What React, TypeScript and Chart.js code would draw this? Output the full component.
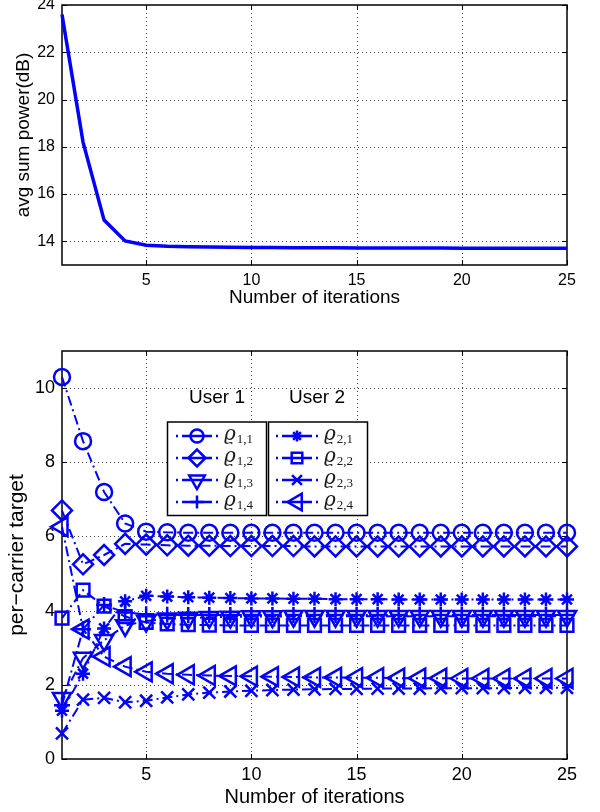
import React, { useEffect, useRef } from "react";
import { Chart, registerables } from "chart.js";

Chart.register(...registerables);

// ---------- data ----------
const iterations = [1, 2, 3, 4, 5, 6, 7, 8, 9, 10, 11, 12, 13, 14, 15, 16, 17, 18, 19, 20, 21, 22, 23, 24, 25];
const avgSumPowerDb = [23.6, 18.2, 14.9, 14.02, 13.84, 13.79, 13.77, 13.76, 13.75, 13.74, 13.74, 13.73, 13.73, 13.73, 13.72, 13.72, 13.72, 13.72, 13.72, 13.71, 13.71, 13.71, 13.71, 13.71, 13.71];

const rho11 = [10.3, 8.57, 7.2, 6.35, 6.13, 6.11, 6.1, 6.1, 6.1, 6.1, 6.1, 6.1, 6.1, 6.1, 6.1, 6.1, 6.1, 6.1, 6.1, 6.1, 6.1, 6.1, 6.1, 6.1, 6.1];
const rho12 = [6.7, 5.25, 5.5, 5.8, 5.78, 5.76, 5.75, 5.75, 5.74, 5.74, 5.74, 5.74, 5.73, 5.73, 5.73, 5.73, 5.73, 5.73, 5.73, 5.73, 5.73, 5.73, 5.73, 5.73, 5.73];
const rho13 = [1.64, 2.72, 3.2, 3.6, 3.72, 3.78, 3.8, 3.82, 3.83, 3.84, 3.84, 3.85, 3.85, 3.85, 3.85, 3.85, 3.85, 3.85, 3.85, 3.85, 3.85, 3.85, 3.85, 3.85, 3.85];
const rho14 = [1.45, 3.5, 4.15, 3.95, 3.9, 3.89, 3.88, 3.88, 3.88, 3.88, 3.88, 3.88, 3.88, 3.88, 3.88, 3.88, 3.88, 3.88, 3.88, 3.88, 3.88, 3.88, 3.88, 3.88, 3.88];
const rho21 = [1.3, 2.3, 3.52, 4.25, 4.4, 4.38, 4.36, 4.35, 4.34, 4.33, 4.33, 4.32, 4.32, 4.31, 4.31, 4.31, 4.3, 4.3, 4.3, 4.3, 4.3, 4.3, 4.3, 4.3, 4.3];
const rho22 = [3.8, 4.55, 4.12, 3.84, 3.68, 3.64, 3.62, 3.61, 3.6, 3.6, 3.6, 3.6, 3.6, 3.6, 3.6, 3.6, 3.6, 3.6, 3.6, 3.6, 3.6, 3.6, 3.6, 3.6, 3.6];
const rho23 = [0.69, 1.6, 1.65, 1.53, 1.57, 1.66, 1.74, 1.79, 1.82, 1.84, 1.86, 1.87, 1.88, 1.89, 1.89, 1.9, 1.9, 1.9, 1.91, 1.91, 1.91, 1.91, 1.92, 1.92, 1.92];
const rho24 = [6.26, 3.5, 2.76, 2.49, 2.35, 2.3, 2.27, 2.25, 2.24, 2.23, 2.22, 2.21, 2.2, 2.2, 2.19, 2.19, 2.18, 2.18, 2.18, 2.17, 2.17, 2.17, 2.17, 2.17, 2.17];

const seriesValues = [rho11, rho12, rho13, rho14, rho21, rho22, rho23, rho24];
const seriesSubscripts = ["1,1", "1,2", "1,3", "1,4", "2,1", "2,2", "2,3", "2,4"];
const userHeadings = ["User 1", "User 2"];

const xTickValues = [5, 10, 15, 20, 25];
const topYTickValues = [14, 16, 18, 20, 22, 24];
const bottomYTickValues = [0, 2, 4, 6, 8, 10];

const xTitle = "Number of iterations";
const topYTitle = "avg sum power(dB)";
const bottomYTitle = "per\u2212carrier target";

// ---------- styles ----------
const BLUE = "#0000ff";
const SANS = "'Liberation Sans', Arial, Helvetica, sans-serif";
const markerStyles = [
  { style: "circle", radius: 8, rotation: 0 },
  { style: "rectRot", radius: 10, rotation: 0 },
  { style: "triangle", radius: 10.5, rotation: 180 },
  { style: "cross", radius: 8, rotation: 0 },
  { style: "star", radius: 7, rotation: 0 },
  { style: "rect", radius: 9, rotation: 0 },
  { style: "crossRot", radius: 8.5, rotation: 0 },
  { style: "triangle", radius: 11, rotation: -90 },
];
const DASH_DOT = [10, 4, 2, 4];

function drawMarker(ctx: CanvasRenderingContext2D, style: string, x: number, y: number, r: number, rotDeg: number) {
  let rad = (rotDeg * Math.PI) / 180;
  ctx.beginPath();
  if (style === "circle") {
    ctx.arc(x, y, r, 0, Math.PI * 2);
  } else if (style === "triangle") {
    ctx.moveTo(x + Math.sin(rad) * r, y - Math.cos(rad) * r);
    rad += (2 * Math.PI) / 3;
    ctx.lineTo(x + Math.sin(rad) * r, y - Math.cos(rad) * r);
    rad += (2 * Math.PI) / 3;
    ctx.lineTo(x + Math.sin(rad) * r, y - Math.cos(rad) * r);
    ctx.closePath();
  } else if (style === "rect") {
    const s = Math.SQRT1_2 * r;
    ctx.rect(x - s, y - s, 2 * s, 2 * s);
  } else if (style === "rectRot") {
    ctx.moveTo(x - r, y);
    ctx.lineTo(x, y - r);
    ctx.lineTo(x + r, y);
    ctx.lineTo(x, y + r);
    ctx.closePath();
  } else {
    const d = Math.SQRT1_2 * r;
    if (style === "cross" || style === "star") {
      ctx.moveTo(x - r, y);
      ctx.lineTo(x + r, y);
      ctx.moveTo(x, y - r);
      ctx.lineTo(x, y + r);
    }
    if (style === "crossRot" || style === "star") {
      ctx.moveTo(x - d, y - d);
      ctx.lineTo(x + d, y + d);
      ctx.moveTo(x - d, y + d);
      ctx.lineTo(x + d, y - d);
    }
  }
  ctx.stroke();
}

function matlabAxesPlugin(xVals: number[], yVals: number[], tickLen: number) {
  return {
    id: "matlabAxes",
    beforeDatasetsDraw(chart: any) {
      const { ctx, chartArea: a, scales } = chart;
      const xs = scales.x;
      const ys = scales.y;
      ctx.save();
      // dotted grid
      ctx.strokeStyle = "rgba(0,0,0,0.75)";
      ctx.lineWidth = 1;
      ctx.setLineDash([1, 3]);
      xVals.forEach((v) => {
        const px = Math.round(xs.getPixelForValue(v)) + 0.5;
        if (px > a.left + 2 && px < a.right - 2) {
          ctx.beginPath();
          ctx.moveTo(px, a.top);
          ctx.lineTo(px, a.bottom);
          ctx.stroke();
        }
      });
      yVals.forEach((v) => {
        const py = Math.round(ys.getPixelForValue(v)) + 0.5;
        if (py > a.top + 2 && py < a.bottom - 2) {
          ctx.beginPath();
          ctx.moveTo(a.left, py);
          ctx.lineTo(a.right, py);
          ctx.stroke();
        }
      });
      ctx.setLineDash([]);
      // inward ticks
      ctx.strokeStyle = "#000";
      ctx.lineWidth = 1;
      xVals.forEach((v) => {
        const px = Math.round(xs.getPixelForValue(v)) + 0.5;
        ctx.beginPath();
        ctx.moveTo(px, a.bottom);
        ctx.lineTo(px, a.bottom - tickLen);
        ctx.moveTo(px, a.top);
        ctx.lineTo(px, a.top + tickLen);
        ctx.stroke();
      });
      yVals.forEach((v) => {
        const py = Math.round(ys.getPixelForValue(v)) + 0.5;
        ctx.beginPath();
        ctx.moveTo(a.left, py);
        ctx.lineTo(a.left + tickLen, py);
        ctx.moveTo(a.right, py);
        ctx.lineTo(a.right - tickLen, py);
        ctx.stroke();
      });
      // box
      ctx.lineWidth = 1.5;
      ctx.strokeRect(a.left, a.top, a.right - a.left, a.bottom - a.top);
      ctx.restore();
    },
  };
}

const legendPlugin = {
  id: "userLegend",
  afterDraw(chart: any) {
    const ctx: CanvasRenderingContext2D = chart.ctx;
    const boxes = [
      { left: 167.5, right: 266.5, lineFrom: 176, lineTo: 218, markerX: 197, textX: 224, headX: 217 },
      { left: 268.5, right: 367.5, lineFrom: 276, lineTo: 318, markerX: 297, textX: 324, headX: 317 },
    ];
    const boxTop = 92;
    const boxBottom = 185.5;
    const headY = 67.5;
    const rowY = [106, 128, 150, 172];
    ctx.save();
    boxes.forEach((b, bi) => {
      ctx.fillStyle = "#000";
      ctx.font = `19px ${SANS}`;
      ctx.textAlign = "center";
      ctx.textBaseline = "middle";
      ctx.fillText(userHeadings[bi], b.headX, headY);
      ctx.fillStyle = "#fff";
      ctx.fillRect(b.left, boxTop, b.right - b.left, boxBottom - boxTop);
      ctx.strokeStyle = "#000";
      ctx.lineWidth = 1.5;
      ctx.strokeRect(b.left, boxTop, b.right - b.left, boxBottom - boxTop);
      for (let k = 0; k < 4; k++) {
        const si = bi * 4 + k;
        const y = rowY[k];
        const m = markerStyles[si];
        ctx.strokeStyle = BLUE;
        ctx.lineWidth = 2.5;
        ctx.beginPath();
        ctx.moveTo(b.lineFrom, y);
        ctx.lineTo(b.lineFrom + 2, y);
        ctx.moveTo(b.lineFrom + 6, y);
        ctx.lineTo(b.lineTo - 6, y);
        ctx.moveTo(b.lineTo - 2, y);
        ctx.lineTo(b.lineTo, y);
        ctx.stroke();
        drawMarker(ctx, m.style, b.markerX, y, m.radius - 1.5, m.rotation);
        ctx.fillStyle = "#1a1a1a";
        ctx.textAlign = "left";
        ctx.textBaseline = "alphabetic";
        ctx.font = `italic 20px 'DejaVu Serif', serif`;
        ctx.fillText("\u03F1", b.textX, y + 3.5);
        const w = ctx.measureText("\u03F1").width;
        ctx.font = `13px 'Liberation Serif', 'DejaVu Serif', serif`;
        ctx.fillText(seriesSubscripts[si], b.textX + w + 1, y + 7);
      }
    });
    ctx.restore();
  },
};

function makeScales(opts: {
  yMin: number; yMax: number; yTicks: number[]; yTitle: string;
  tickSize: number; titleSize: number; yTitleSize: number;
  xAxisHeight: number; xTitlePadBottom: number; yTitlePadTop: number; xTickPad: number;
}) {
  return {
    x: {
      type: "linear",
      min: 1,
      max: 25,
      grid: { display: false, drawTicks: false },
      border: { display: false },
      afterBuildTicks: (s: any) => {
        s.ticks = xTickValues.map((v) => ({ value: v }));
      },
      afterFit: (s: any) => {
        s.height = opts.xAxisHeight;
        s.paddingLeft = 0;
        s.paddingRight = 0;
      },
      ticks: {
        padding: opts.xTickPad,
        color: "#000",
        maxRotation: 0,
        autoSkip: false,
        font: { family: SANS, size: opts.tickSize },
      },
      title: {
        display: true,
        text: xTitle,
        color: "#000",
        font: { family: SANS, size: opts.titleSize },
        padding: { top: 0, bottom: opts.xTitlePadBottom },
      },
    },
    y: {
      type: "linear",
      min: opts.yMin,
      max: opts.yMax,
      grid: { display: false, drawTicks: false },
      border: { display: false },
      afterBuildTicks: (s: any) => {
        s.ticks = opts.yTicks.map((v) => ({ value: v }));
      },
      afterFit: (s: any) => {
        s.width = 62;
        s.paddingTop = 0;
        s.paddingBottom = 0;
      },
      ticks: {
        padding: 7,
        color: "#000",
        autoSkip: false,
        font: { family: SANS, size: opts.tickSize },
      },
      title: {
        display: true,
        text: opts.yTitle,
        color: "#000",
        font: { family: SANS, size: opts.yTitleSize },
        padding: { top: opts.yTitlePadTop, bottom: 0 },
      },
    },
  };
}

export default function App() {
  const topRef = useRef<HTMLCanvasElement | null>(null);
  const botRef = useRef<HTMLCanvasElement | null>(null);

  useEffect(() => {
    const topChart = new Chart(topRef.current as HTMLCanvasElement, {
      type: "line",
      data: {
        datasets: [
          {
            data: iterations.map((x, i) => ({ x, y: avgSumPowerDb[i] })),
            borderColor: BLUE,
            borderWidth: 3.5,
            pointRadius: 0,
            tension: 0,
            fill: false,
            clip: false as any,
          },
        ],
      },
      options: {
        animation: false,
        responsive: false,
        devicePixelRatio: 1,
        events: [],
        layout: { padding: { top: 5, right: 33, left: 0, bottom: 0 } },
        plugins: { legend: { display: false }, tooltip: { enabled: false } },
        scales: makeScales({
          yMin: 13, yMax: 24, yTicks: topYTickValues, yTitle: topYTitle,
          tickSize: 16, titleSize: 19, yTitleSize: 19,
          xAxisHeight: 55, xTitlePadBottom: 10.6, yTitlePadTop: 12, xTickPad: 6,
        }) as any,
      },
      plugins: [matlabAxesPlugin(xTickValues, topYTickValues, 5)],
    });

    const botChart = new Chart(botRef.current as HTMLCanvasElement, {
      type: "line",
      data: {
        datasets: seriesValues.map((vals, i) => ({
          label: "\u03F1" + seriesSubscripts[i],
          data: iterations.map((x, j) => ({ x, y: vals[j] })),
          borderColor: BLUE,
          borderWidth: 2,
          borderDash: DASH_DOT,
          pointStyle: markerStyles[i].style as any,
          pointRadius: markerStyles[i].radius,
          pointRotation: markerStyles[i].rotation,
          pointBorderColor: BLUE,
          pointBackgroundColor: "rgba(0,0,0,0)",
          pointBorderWidth: 2.5,
          tension: 0,
          fill: false,
          clip: false as any,
          order: seriesValues.length - i,
        })),
      },
      options: {
        animation: false,
        responsive: false,
        devicePixelRatio: 1,
        events: [],
        layout: { padding: { top: 21, right: 33, left: 0, bottom: 0 } },
        plugins: { legend: { display: false }, tooltip: { enabled: false } },
        scales: makeScales({
          yMin: 0, yMax: 11, yTicks: bottomYTickValues, yTitle: bottomYTitle,
          tickSize: 18, titleSize: 20, yTitleSize: 21,
          xAxisHeight: 53, xTitlePadBottom: 3, yTitlePadTop: 5, xTickPad: 5,
        }) as any,
      },
      plugins: [matlabAxesPlugin(xTickValues, bottomYTickValues, 5), legendPlugin],
    });

    return () => {
      topChart.destroy();
      botChart.destroy();
    };
  }, []);

  return (
    <div style={{ position: "absolute", left: 0, top: 0, width: 600, height: 812, background: "#fff", overflow: "hidden" }}>
      <canvas
        ref={topRef}
        width={600}
        height={320}
        style={{ position: "absolute", left: 0, top: 0, width: 600, height: 320 }}
      />
      <canvas
        ref={botRef}
        width={600}
        height={482}
        style={{ position: "absolute", left: 0, top: 330, width: 600, height: 482 }}
      />
    </div>
  );
}
